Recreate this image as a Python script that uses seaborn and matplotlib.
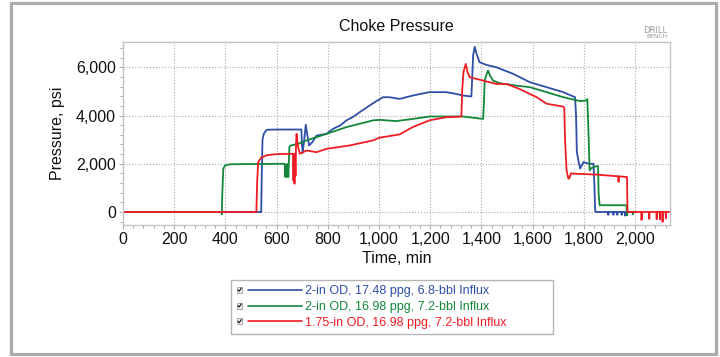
#!/usr/bin/env python3
"""Choke Pressure - recréation du graphique DrillBench (3 cas de influx)."""
import matplotlib
matplotlib.use("Agg")
import matplotlib.pyplot as plt
import matplotlib.ticker as mticker
from matplotlib.lines import Line2D
from matplotlib.patches import Rectangle
from matplotlib.legend_handler import HandlerBase
import pandas as pd
import seaborn as sns

# ---- données (temps en min, pression en psi) ----
SERIES = ["2-in OD, 17.48 ppg, 6.8-bbl Influx",
          "2-in OD, 16.98 ppg, 7.2-bbl Influx",
          "1.75-in OD, 16.98 ppg, 7.2-bbl Influx"]
COLORS = ["#2f4fa6", "#14873a", "#ee1c24"]

blue_t = [0, 540, 542, 545, 550, 561, 600, 697, 699, 702, 708, 714, 720, 727,
          740, 756, 795, 821, 850, 873, 900, 925, 964, 990, 1016, 1040, 1081,
          1132, 1197, 1263, 1300, 1328, 1361, 1364, 1368, 1374, 1380, 1393,
          1420, 1459, 1524, 1590, 1655, 1720, 1766, 1770, 1773, 1779, 1786,
          1799, 1820, 1838, 1842, 1845, 1895, 1896, 1897, 1915, 1916, 1917,
          1930, 1931, 1932, 1947, 1948, 1949, 1960, 1961, 1962, 1966]
blue_v = [0, 0, 1500, 3000, 3240, 3410, 3420, 3420, 2800, 2450, 3000, 3615,
          3200, 2760, 2900, 3170, 3240, 3450, 3600, 3800, 3950, 4140, 4420,
          4600, 4760, 4760, 4690, 4830, 4970, 4970, 4900, 4830, 4790, 5500,
          6500, 6850, 6600, 6210, 6100, 6000, 5730, 5380, 5175, 4970, 4760,
          4000, 2500, 2140, 1800, 2070, 2000, 2000, 1000, 0, 0, -120, 0, 0,
          -120, 0, 0, -120, 0, 0, -120, 0, 0, -150, 0, 0]

green_t = [0, 384, 386, 388, 392, 399, 420, 632, 634, 637, 640, 643, 646, 650,
           655, 665, 691, 717, 795, 873, 977, 1003, 1067, 1132, 1197, 1328,
           1407, 1410, 1413, 1420, 1426, 1434, 1446, 1472, 1530, 1590, 1655,
           1720, 1786, 1808, 1814, 1818, 1823, 1827, 1838, 1851, 1856, 1858,
           1862, 1900, 1967, 1969, 1972, 1990, 1992, 1994, 2005]
green_v = [0, 0, -100, 800, 1800, 1930, 1980, 2000, 1450, 1950, 1450, 2000,
           1450, 2700, 2760, 2780, 2850, 2970, 3240, 3520, 3800, 3820, 3770,
           3860, 3960, 3960, 3860, 4500, 5450, 5700, 5870, 5650, 5450, 5340,
           5250, 5175, 4970, 4760, 4600, 4620, 4680, 3500, 1725, 1800, 1860,
           1900, 1900, 800, 280, 280, 280, -140, 0, 0, -100, 0, 0]

red_t = [0, 521, 524, 528, 540, 561, 600, 664, 666, 668, 670, 672, 674, 676,
         678, 684, 691, 717, 756, 795, 886, 977, 1001, 1080, 1132, 1197, 1263,
         1322, 1325, 1330, 1339, 1346, 1354, 1407, 1459, 1498, 1550, 1616,
         1655, 1720, 1724, 1727, 1733, 1740, 1744, 1750, 1760, 1850, 1934,
         1936, 1938, 1969, 1971, 1973, 2025, 2026, 2027, 2055, 2056, 2057,
         2084, 2085, 2086, 2097, 2098, 2099, 2107, 2108, 2109, 2120, 2121,
         2122, 2140]
red_v = [0, 0, 1200, 2070, 2250, 2350, 2400, 2415, 1300, 2400, 1170, 2400,
         1500, 2800, 3240, 2700, 2415, 2550, 2480, 2620, 2760, 2970, 3080,
         3215, 3520, 3800, 3930, 3960, 5000, 5800, 6140, 5800, 5590, 5450,
         5310, 5310, 5100, 4760, 4490, 4370, 4300, 3000, 1725, 1380, 1400,
         1600, 1590, 1550, 1480, 1250, 1480, 1450, 0, 0, 0, -330, 0, 0, -290,
         0, 0, -300, 0, 0, -300, 0, 0, -410, 0, 0, -260, 0, 0]

X_TICKS = list(range(0, 2001, 200))
Y_TICKS = [0, 2000, 4000, 6000]


class CheckHandler(HandlerBase):
    """Case à cocher + trait, comme la légende DrillBench."""
    def create_artists(self, legend, orig_handle, xdescent, ydescent,
                       width, height, fontsize, trans):
        s = 4.2
        y0 = (height - s) / 2 - ydescent
        x0 = -xdescent
        box = Rectangle((x0, y0), s, s, facecolor="#f2f2f2",
                        edgecolor="#9a9a9a", lw=0.6, transform=trans)
        chk = Line2D([x0 + 1.0, x0 + 1.9, x0 + 3.4],
                     [y0 + 2.2, y0 + 1.1, y0 + 3.4],
                     color="#111111", lw=0.8, transform=trans)
        ln = Line2D([x0 + 8.5, x0 + width], [y0 + s / 2] * 2,
                    color=orig_handle.get_color(), lw=1.2, transform=trans)
        return [box, chk, ln]


def main():
    df = pd.concat([
        pd.DataFrame({"t": blue_t, "v": blue_v, "serie": SERIES[0]}),
        pd.DataFrame({"t": green_t, "v": green_v, "serie": SERIES[1]}),
        pd.DataFrame({"t": red_t, "v": red_v, "serie": SERIES[2]}),
    ], ignore_index=True)

    sns.set_theme(style="white")
    plt.rcParams["font.family"] = ["Liberation Sans", "DejaVu Sans"]

    fig = plt.figure(figsize=(7.2, 3.57), dpi=100)
    ax = fig.add_axes([123 / 720, 1 - 225 / 357, 547 / 720, 183 / 357])

    sns.lineplot(data=df, x="t", y="v", hue="serie", hue_order=SERIES,
                 palette=COLORS, sort=False, estimator=None, lw=1.3,
                 legend=False, ax=ax)

    ax.set_xlim(0, 2137)
    ax.set_ylim(-540, 7050)
    ax.set_xticks(X_TICKS)
    ax.set_yticks(Y_TICKS)
    fmt = mticker.FuncFormatter(lambda v, p: f"{int(v):,}")
    ax.xaxis.set_major_formatter(fmt)
    ax.yaxis.set_major_formatter(fmt)
    ax.xaxis.set_minor_locator(mticker.MultipleLocator(40))
    ax.yaxis.set_minor_locator(mticker.MultipleLocator(400))
    ax.tick_params(which="both", direction="out", color="#9a9a9a",
                   labelsize=11.5, labelcolor="#111111", pad=2)
    ax.tick_params(which="major", length=3, width=0.6, bottom=True, left=True)
    ax.tick_params(which="minor", length=2.5, width=0.6, bottom=True, left=True)
    ax.grid(True, which="major", ls=":", color="#a8a8a8", lw=0.8)
    for sp in ax.spines.values():
        sp.set_color("#c4c4c4")
        sp.set_linewidth(1.0)

    ax.set_xlabel("Time, min", fontsize=11.5, labelpad=3, color="#111111")
    ax.set_ylabel("Pressure, psi", fontsize=11.5, labelpad=8, color="#111111")
    ax.set_title("Choke Pressure", fontsize=11.5, pad=8, color="#111111")

    # logo DrillBench
    fig.text(667 / 720, 1 - 30.5 / 357, "DRILL", fontsize=6, color="#9a9a9a",
             ha="right", va="center", family="DejaVu Sans")
    fig.text(667 / 720, 1 - 37 / 357, "BENCH", fontsize=4.3, color="#9a9a9a",
             ha="right", va="center", family="DejaVu Sans")

    # légende
    handles = [Line2D([], [], color=c) for c in COLORS]
    fig.legend(handles, SERIES, handler_map={Line2D: CheckHandler()},
               loc="center",
               bbox_to_anchor=(231 / 720, 1 - 337 / 357, 322 / 720, 60 / 357),
               mode="expand", frameon=True, fancybox=False,
               edgecolor="#b4b4b4", framealpha=1, fontsize=9,
               labelcolor=COLORS, handlelength=5.2, handletextpad=0.25,
               labelspacing=0.3, borderpad=0.45, borderaxespad=0)

    # cadre extérieur gris
    fig.patches.append(Rectangle((10.5 / 720, 1 - 354 / 357),
                                 705 / 720, 351 / 357,
                                 transform=fig.transFigure, fill=False,
                                 edgecolor="#acacae", lw=2.3))

    fig.savefig("out.png", dpi=100)
    plt.close(fig)


if __name__ == "__main__":
    main()
